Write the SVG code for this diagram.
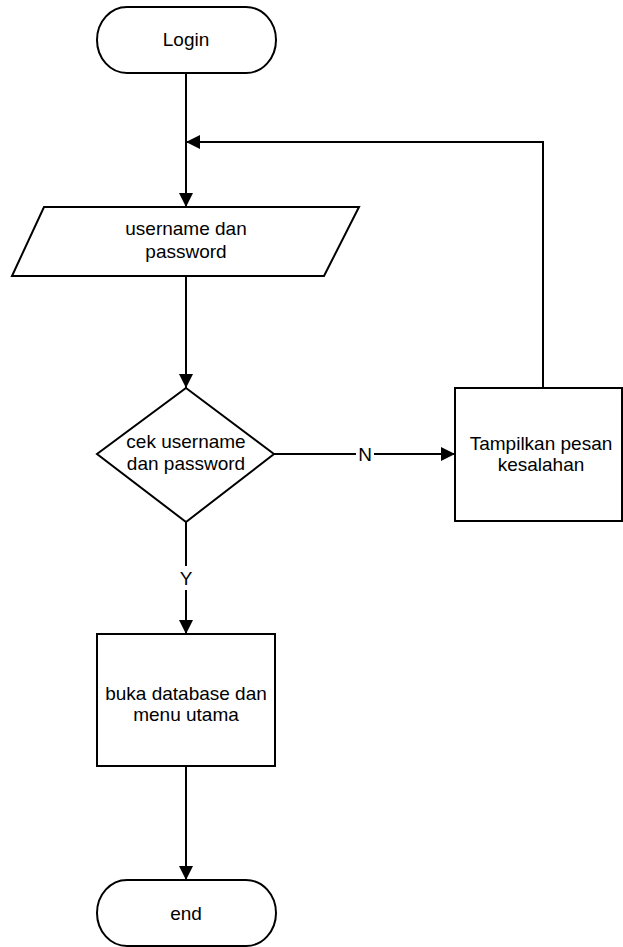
<svg xmlns="http://www.w3.org/2000/svg" width="623" height="947" viewBox="0 0 623 947">
<style>
.s{fill:#fff;stroke:#000;stroke-width:2}
.c{fill:none;stroke:#000;stroke-width:2}
text{font-family:"Liberation Sans",Arial,sans-serif;font-size:19px;fill:#000;text-anchor:middle}
</style>
<defs>
<marker id="ah" viewBox="0 0 10 10" refX="10" refY="5" markerWidth="14" markerHeight="14" markerUnits="userSpaceOnUse" orient="auto">
<path d="M0,0L10,5L0,10z" fill="#000"/>
</marker>
</defs>
<g id="connectors">
<path class="c" d="M186,73V207" marker-end="url(#ah)"/>
<path class="c" d="M543,388V142H186" marker-end="url(#ah)"/>
<path class="c" d="M186,276V388" marker-end="url(#ah)"/>
<path class="c" d="M274,454H356M374,454H455" marker-end="url(#ah)"/>
<path class="c" d="M186,522V566M186,590V634" marker-end="url(#ah)"/>
<path class="c" d="M186,766V880" marker-end="url(#ah)"/>
<text x="365" y="461">N</text>
<text x="186" y="585">Y</text>
</g>
<g id="login">
<rect class="s" x="97" y="7" width="179" height="66" rx="30" ry="33"/>
<text x="186" y="46">Login</text>
</g>
<g id="input">
<polygon class="s" points="44,207 359,207 324,276 12,276"/>
<text x="186" y="235">username dan</text>
<text x="186" y="258">password</text>
</g>
<g id="cek">
<polygon class="s" points="186,388 274,454 186,522 97,454"/>
<text x="186" y="448">cek username</text>
<text x="186" y="470">dan password</text>
</g>
<g id="tampil">
<rect class="s" x="455" y="388" width="167" height="133"/>
<text x="541" y="450">Tampilkan pesan</text>
<text x="541" y="471">kesalahan</text>
</g>
<g id="buka">
<rect class="s" x="97" y="634" width="178" height="132"/>
<text x="186" y="700">buka database dan</text>
<text x="186" y="721">menu utama</text>
</g>
<g id="end">
<rect class="s" x="97" y="880" width="179" height="66" rx="30" ry="33"/>
<text x="186" y="920">end</text>
</g>
</svg>
